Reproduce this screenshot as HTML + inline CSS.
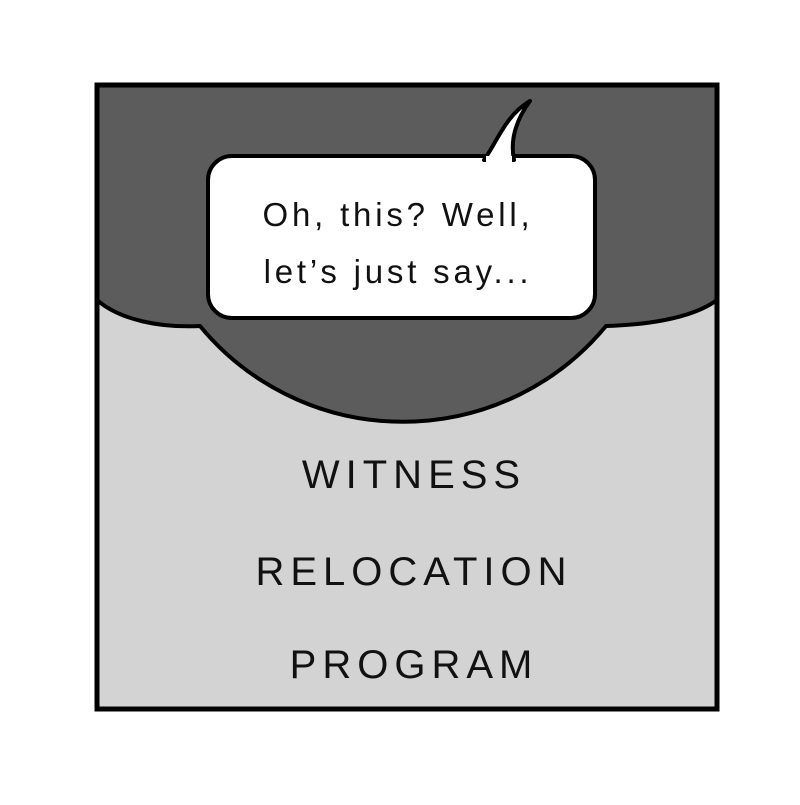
<!DOCTYPE html>
<html><head><style>
body{margin:0;background:#fff;}
svg text{font-family:"Liberation Sans",sans-serif;}
</style></head><body>
<svg width="800" height="800" viewBox="0 0 800 800">
<rect x="97" y="85" width="620" height="624" fill="#d3d3d3"/>
<path d="M97 85 H717 V300 C690 320 640 325 606 326 A263 263 0 0 1 200 326 C160 328 120 320 97 300 Z" fill="#5c5c5c" stroke="#000" stroke-width="4" stroke-linejoin="round"/>
<rect x="97" y="85" width="620" height="624" fill="none" stroke="#000" stroke-width="5"/>
<rect x="208" y="156" width="387" height="162" rx="24" fill="#fff" stroke="#000" stroke-width="4"/>
<path d="M484 160 C498 140 506 115 530 101 C516 120 510 140 514 160 Z" fill="#fff" stroke="#000" stroke-width="4" stroke-linejoin="round"/>
<rect x="486" y="156" width="26" height="10" fill="#fff"/>
<g font-size="33" fill="#111" text-anchor="middle" letter-spacing="3.8">
<text x="398" y="226">Oh, this? Well,</text>
<text x="398" y="283">let’s just say...</text>
</g>
<g font-size="40" fill="#111" text-anchor="middle" letter-spacing="6">
<text x="414" y="488">WITNESS</text>
<text x="414" y="585">RELOCATION</text>
<text x="414" y="678">PROGRAM</text>
</g>
</svg>
</body></html>
